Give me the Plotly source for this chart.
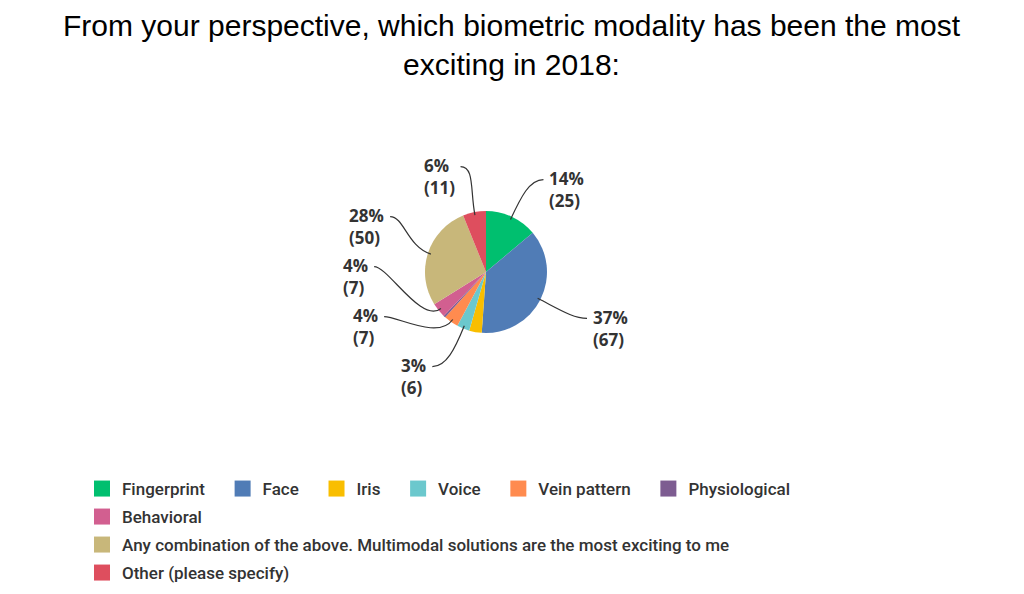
import math
import plotly.graph_objects as go

# ---- data ----
categories = [
    "Fingerprint", "Face", "Iris", "Voice", "Vein pattern", "Physiological",
    "Behavioral",
    "Any combination of the above. Multimodal solutions are the most exciting to me",
    "Other (please specify)",
]
counts = [25, 67, 6, 6, 7, 1, 7, 50, 11]
shown = [True, True, False, True, True, False, True, True, True]
colors = ["#00BF6F", "#507CB6", "#F9BE00", "#6BC8CD", "#FF8B4F", "#7D5C91",
          "#D25F90", "#C8B77A", "#DE4E5E"]
legend_row = [1, 1, 1, 1, 1, 1, 2, 3, 4]
title_text = ("From your perspective, which biometric modality has been the most"
              "<br>exciting in 2018:")

# ---- geometry (screen pixels) ----
W, H = 1024, 594
OFF = 8                 # page body margin
CX, CY, R = 486, 272, 61
RLY = 102               # vertical radius of label anchors
RX, RY = 116, 109       # ellipse for label inner edges
GAP = 50                # min vertical gap between labels
LEG_X = 82
LEG_Y0, LEG_DY = 489, 28

def px(x):
    return (x - OFF) / W

def py(y):
    return 1 - (y - OFF) / H

fig = go.Figure()
fig.add_trace(go.Pie(
    labels=categories, values=counts, sort=False, direction="clockwise",
    rotation=0, marker=dict(colors=colors, line=dict(width=0)),
    textinfo="none", hoverinfo="label+value+percent", showlegend=False,
    domain=dict(x=[px(CX - R), px(CX + R)], y=[py(CY + R), py(CY - R)]),
))

# legend entries (one legend per row)
pad = "\u00a0" * 3
for cat, col, row in zip(categories, colors, legend_row):
    fig.add_trace(go.Scatter(
        x=[None], y=[None], mode="markers", name=cat + pad, showlegend=True,
        marker=dict(symbol="square", size=16, color=col),
        legend="legend" if row == 1 else f"legend{row}",
    ))

total = sum(counts)
cum = 0
labels = []
for i, c in enumerate(counts):
    mid = (cum + c / 2) / total * 2 * math.pi
    cum += c
    if not shown[i]:
        continue
    ideal_y = CY - RLY * math.cos(mid)
    side = 1 if math.sin(mid) >= 0 else -1
    labels.append(dict(i=i, mid=mid, y=ideal_y, side=side))

# spread labels on each side (bottom-up)
for side in (1, -1):
    grp = sorted([l for l in labels if l["side"] == side], key=lambda l: -l["y"])
    prev = None
    for l in grp:
        if prev is not None:
            l["y"] = min(l["y"], prev - GAP)
        prev = l["y"]

shapes = []
annotations = [dict(
    x=px(512), y=1, xref="paper", yref="paper", xanchor="center", yanchor="top",
    text=title_text, showarrow=False, borderpad=0,
    font=dict(family="Liberation Sans", size=30, color="black"),
)]
for l in labels:
    i, mid, side = l["i"], l["mid"], l["side"]
    dy = l["y"] - CY
    dx = RX * math.sqrt(max(1 - (dy / RY) ** 2, 0))
    tx = CX + side * dx
    pct = round(100 * counts[i] / total)
    annotations.append(dict(
        x=px(tx), y=py(l["y"] + 10), xref="paper", yref="paper",
        text=f"<b>{pct}%<br>({counts[i]})</b>", showarrow=False,
        xanchor="left" if side > 0 else "right", yanchor="middle", align="left",
        font=dict(family="Open Sans", size=17, color="#333333"),
    ))
    sx, sy = CX + 0.95 * R * math.sin(mid), CY - 0.95 * R * math.cos(mid)
    c1x, c1y = CX + (R + 22) * math.sin(mid), CY - (R + 22) * math.cos(mid)
    ex, ey = tx - side * 4, l["y"]
    c2x, c2y = ex - side * 14, ey
    path = (f"M {px(sx)},{py(sy)} C {px(c1x)},{py(c1y)} "
            f"{px(c2x)},{py(c2y)} {px(ex)},{py(ey)}")
    shapes.append(dict(type="path", path=path, xref="paper", yref="paper",
                       line=dict(color="#333333", width=1.2)))

legend_style = dict(orientation="h", xanchor="left", yanchor="middle",
                    itemwidth=30,
                    font=dict(family="Roboto", size=17, color="#333333", weight=500),
                    bgcolor="rgba(0,0,0,0)", borderwidth=0)
layout_legends = {}
for row in sorted(set(legend_row)):
    key = "legend" if row == 1 else f"legend{row}"
    layout_legends[key] = dict(legend_style, x=px(LEG_X),
                               y=py(LEG_Y0 + (row - 1) * LEG_DY))

fig.update_layout(
    width=W, height=H,
    margin=dict(l=0, r=0, t=0, b=0),
    paper_bgcolor="white", plot_bgcolor="white",
    xaxis=dict(visible=False), yaxis=dict(visible=False),
    shapes=shapes, annotations=annotations,
    **layout_legends,
)

fig.write_html("out.html")
